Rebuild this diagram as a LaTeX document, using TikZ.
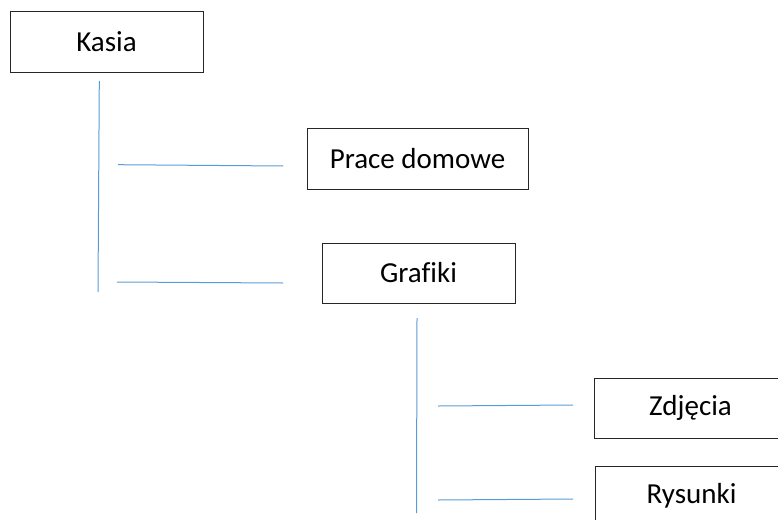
\documentclass[tikz,border=0pt]{standalone}
\usepackage{fontspec}
\setmainfont{Carlito}[Ligatures=NoCommon]
\usetikzlibrary{positioning}

\definecolor{linkblue}{HTML}{5B9BD5}
\tikzset{
  box/.style={draw=black!85,line width=1pt,minimum width=193pt,minimum height=60pt,inner sep=0pt},
  link/.style={draw=linkblue,line width=1pt}
}

\begin{document}
\begin{tikzpicture}[x=1pt,y=-1pt,font=\fontsize{29}{34}\selectfont]
  \useasboundingbox (0,0) rectangle (778,519);

  \node [box] (kasia) at (106.5,42) {Kasia};
  \node [box,minimum width=221pt,minimum height=61pt] (prace) at (417.5,158.5) {Prace domowe};
  \node [box] (grafiki) at (418.5,273) {Grafiki};
  \node [box] (zdjecia) at (690.5,408) {Zdjęcia};
  \node [box] (rysunki) at (691.5,496) {Rysunki};

  \coordinate (k_top) at (99.3,81);
  \coordinate (k_bot) at (98,292);
  \coordinate (k_a1) at (118,164.7);
  \coordinate (k_a2) at (283,166);
  \coordinate (k_b1) at (117,282);
  \coordinate (k_b2) at (283,283);

  \coordinate (g_top) at (417,318);
  \coordinate (g_bot) at (416.5,513);
  \coordinate (g_a1) at (438,406);
  \coordinate (g_a2) at (573,405);
  \coordinate (g_b1) at (438,500);
  \coordinate (g_b2) at (573,499);

  \draw [link] (k_top) -- (k_bot);
  \draw [link] (k_a1) -- (k_a2);
  \draw [link] (k_b1) -- (k_b2);
  \draw [link] (g_top) -- (g_bot);
  \draw [link] (g_a1) -- (g_a2);
  \draw [link] (g_b1) -- (g_b2);
\end{tikzpicture}
\end{document}
